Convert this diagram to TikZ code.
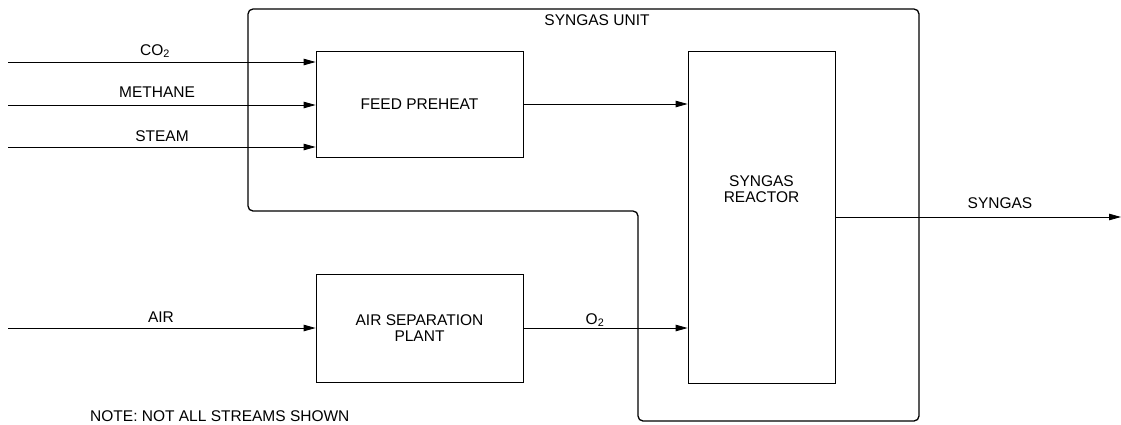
\documentclass[tikz,border=0pt]{standalone}
\usepackage{fontspec}
\setmainfont{Liberation Sans}
\usetikzlibrary{arrows.meta,calc}
\begin{document}
\begin{tikzpicture}[x=1pt,y=-1pt,
  every node/.style={font=\fontsize{15.5}{16.5}\selectfont, inner sep=0pt},
  box/.style={draw=black, line width=0.8pt, rectangle},
  arr/.style={draw=black, line width=0.8pt, -{Triangle[length=12pt,width=6.5pt]}},
  unit/.style={draw=black, line width=1.3pt, rounded corners=5pt},
  lbl/.style={align=center}]
\useasboundingbox (0,0) rectangle (1121,424);
% unit boundary
\draw[unit] (248,9) -- (919,9) -- (919,421) -- (638,421) -- (638,211) -- (248,211) -- cycle;
\node[lbl] (unitlbl) at (597,20) {SYNGAS UNIT};
% boxes
\node[box, minimum width=207pt, minimum height=106pt] (feed) at (419.5,104) {FEED PREHEAT};
\node[box, minimum width=147pt, minimum height=332pt] (reactor) at (761.5,217) {};
\node[lbl] (reactorlbl) at (761.5,189) {SYNGAS\\REACTOR};
\node[box, minimum width=207pt, minimum height=108pt, align=center] (asu) at (419.5,328) {AIR SEPARATION\\PLANT};
% inputs
\coordinate (co2in) at (8,62);
\coordinate (ch4in) at (8,105);
\coordinate (stin) at (8,147);
\coordinate (airin) at (8,328);
\coordinate (out) at (1121,217);
\draw[arr] (co2in) -- (co2in -| feed.west);
\draw[arr] (ch4in) -- (ch4in -| feed.west);
\draw[arr] (stin) -- (stin -| feed.west);
\draw[arr] (airin) -- (airin -| asu.west);
\draw[arr] (feed.east) -- (feed.east -| reactor.west);
\draw[arr] (asu.east) -- (asu.east -| reactor.west);
\draw[arr] (reactor.east) -- (out);
% labels
\node[lbl] (co2lbl) at (155,51) {CO\textsubscript{2}};
\node[lbl] (ch4lbl) at (157,92) {METHANE};
\node[lbl] (stlbl) at (162,136) {STEAM};
\node[lbl] (airlbl) at (161,317) {AIR};
\node[lbl] (o2lbl) at (595,320) {O\textsubscript{2}};
\node[lbl] (synlbl) at (1000,203) {SYNGAS};
\node[anchor=west] (note) at (90,416) {NOTE: NOT ALL STREAMS SHOWN};
\end{tikzpicture}
\end{document}
